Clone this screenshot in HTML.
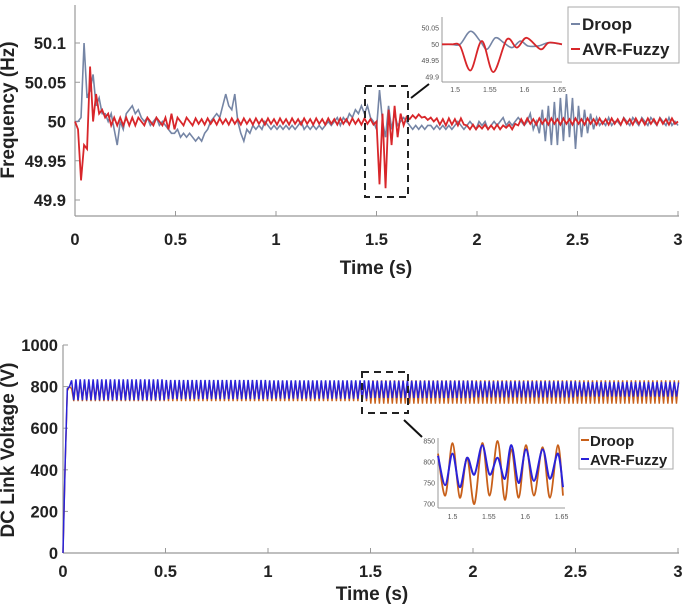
<!DOCTYPE html>
<html><head><meta charset="utf-8">
<style>
html,body{margin:0;padding:0;background:#fff;}
svg{display:block;font-family:"Liberation Sans",Arial,sans-serif;}
.tk{font-size:16.5px;font-weight:bold;fill:#222;}
.ttl{font-size:19px;font-weight:bold;fill:#222;}
.itk{font-size:7px;fill:#555;}
.lg{font-size:17px;font-weight:bold;fill:#222;}
</style></head><body>
<svg id="chart" width="685" height="605" viewBox="0 0 685 605"></svg>
<script>
// ---------- data ----------
const topDt = 0.015;
const topDroop = [
50,50,50.005,50.1,50.03,50.04,50.06,50.02,50.03,50.01,
50.01,50.0,50.01,49.99,49.97,50.0,49.99,50.01,50.015,50.02,
50.01,50.015,50.005,50.0,50.005,49.995,50.0,50.005,49.995,50.0,
49.995,49.99,49.985,49.985,49.99,49.98,49.985,49.98,49.985,49.98,
49.975,49.98,49.975,49.985,49.99,50.0,50.005,50.01,50.005,50.02,
50.035,50.02,50.015,50.035,50.0,49.985,49.975,49.99,49.985,49.995,
49.99,49.995,49.99,50.0,49.995,49.99,49.995,49.99,49.995,49.99,
49.995,49.99,49.995,49.99,49.995,50.0,49.99,49.995,49.99,49.995,
49.99,49.995,49.99,49.995,50.0,49.995,50.0,50.005,49.995,50.005,
50.0,50.01,50.005,50.015,50.01,50.02,50.01,50.02,50.005,50.0,
49.99,50.04,50.0,49.98,50.02,49.99,50.01,49.995,50.0,50.005,
50.0,49.995,49.99,49.995,49.99,49.995,49.99,49.995,49.995,49.99,
49.995,49.99,49.995,49.99,49.995,49.99,49.995,50.0,49.995,49.99,
49.995,50.0,49.995,49.99,50.0,49.995,50.0,49.99,49.995,50.0,
49.995,50.0,50.005,49.995,50.0,49.995,50.0,50.005,50.0,49.995,
50.0,50.01,49.99,50.0,49.985,50.015,49.975,50.02,49.97,50.025,
49.97,50.03,49.975,50.035,49.98,50.03,49.965,50.02,49.98,50.015,
49.985,50.01,49.99,50.005,49.995,50.0,49.995,50.005,49.995,50.0,
50.0,49.995,50.005,50.0,49.995,50.005,50.0,49.995,50.005,50.0,
49.995,50.005,50.0,49.995,50.005,50.0,49.995,50.005,49.995,50.0,
49.995];
const topAvr = [
50,49.99,49.925,49.97,49.965,50.07,50.0,50.035,50.01,50.015,
50.005,50.01,49.995,50.005,49.995,50.005,49.995,50.005,49.995,50.005,
49.995,50.005,50.0,49.995,50.005,50.0,49.995,50.005,50.0,49.995,
50.005,49.99,50.01,49.99,50.005,50.0,49.995,50.005,50.0,49.995,
50.004,49.997,50.003,49.996,50.004,49.997,50.003,49.996,50.004,49.997,
50.003,49.996,50.004,49.997,50.003,49.996,50.004,49.997,50.003,49.996,
50.004,49.997,50.003,49.996,50.004,49.997,50.003,49.996,50.004,49.997,
50.003,49.996,50.004,49.997,50.003,49.996,50.004,49.997,50.003,49.996,
50.004,49.997,50.003,49.996,50.004,49.997,50.003,49.996,50.004,49.997,
50.003,49.996,50.004,49.997,50.003,49.996,50.004,49.997,50.003,49.996,
50.0,49.92,50.01,49.915,50.015,49.97,50.02,49.98,50.01,49.995,
50.006,50.003,50.008,50.004,50.009,50.005,50.006,50.002,50.005,50.0,
50.004,49.996,50.003,49.995,50.004,49.996,50.003,49.995,50.004,49.996,
49.995,49.99,49.996,49.99,49.995,49.991,49.996,49.99,49.995,49.99,
49.996,49.99,49.995,49.992,49.996,49.99,49.997,49.995,50.003,49.996,
50.004,49.997,50.003,49.996,50.004,49.997,50.003,49.996,50.004,49.997,
50.003,49.996,50.004,49.997,50.003,49.996,50.004,49.997,50.003,49.996,
50.004,49.997,50.003,49.996,50.004,49.997,50.003,49.996,50.004,49.997,
50.003,49.996,50.004,49.997,50.003,49.996,50.004,49.997,50.003,49.996,
50.004,49.997,50.003,49.996,50.004,49.997,50.003,49.996,50.004,49.997,
50.0];
const topXTicks = [0,0.5,1,1.5,2,2.5,3];
const topXTickLabels = ["0","0.5","1","1.5","2","2.5","3"];
const topYTicks = [49.9,49.95,50,50.05,50.1];
const topYTickLabels = ["49.9","49.95","50","50.05","50.1"];

const topInsetDroopT = [1.481,1.495,1.507,1.522,1.536,1.546,1.558,1.57,1.582,1.594,1.605,1.62,1.635,1.654];
const topInsetDroopV = [50,50,50.0,50.04,50.01,49.985,50.02,50.005,49.99,50.01,49.995,49.995,50.005,50.0];
const topInsetAvrT = [1.481,1.495,1.507,1.522,1.5385,1.555,1.5745,1.589,1.603,1.623,1.635,1.654];
const topInsetAvrV = [50,50,49.995,49.92,50.01,49.915,50.015,49.99,50.02,49.985,50.005,50.0];
const topInsetXTicks = [1.5,1.55,1.6,1.65];
const topInsetXLabels = ["1.5","1.55","1.6","1.65"];
const topInsetYTicks = [49.9,49.95,50,50.05];
const topInsetYLabels = ["49.9","49.95","50","50.05"];

const botDt = 0.0105;
const botDroopPeaks = [0,420,780,800,790];
const botBlueStart = [0,430,790,800,830];
const botDroopHi = 825, botDroopLo = 730;
const botDroopHi2 = 830, botDroopLo2 = 718;
const botBlueHiArr = [835,832,830,828,825,822,820];
const botBlueLoArr = [735,740,742,745,748,752,755];
const botXTicks = [0,0.5,1,1.5,2,2.5,3];
const botXTickLabels = ["0","0.5","1","1.5","2","2.5","3"];
const botYTicks = [0,200,400,600,800,1000];
const botYTickLabels = ["0","200","400","600","800","1000"];

const botInsetDroopT = [1.48,1.49,1.50,1.51,1.52,1.53,1.541,1.551,1.562,1.572,1.581,1.591,1.601,1.612,1.624,1.634,1.645,1.652];
const botInsetDroopV = [820,720,845,715,810,700,845,720,850,710,830,715,840,720,835,715,840,720];
const botInsetBlueT = [1.48,1.49,1.50,1.51,1.52,1.53,1.541,1.551,1.562,1.572,1.581,1.591,1.601,1.612,1.624,1.634,1.645,1.652];
const botInsetBlueV = [815,745,820,740,810,770,840,770,810,760,840,750,830,755,830,760,820,740];
const botInsetXTicks = [1.5,1.55,1.6,1.65];
const botInsetXLabels = ["1.5","1.55","1.6","1.65"];
const botInsetYTicks = [700,750,800,850];
const botInsetYLabels = ["700","750","800","850"];

// ---------- helpers ----------
const NS = "http://www.w3.org/2000/svg";
const svg = document.getElementById('chart');
function mk(tag, attrs, parent, text){
  const e = document.createElementNS(NS, tag);
  for (const k in attrs) e.setAttribute(k, attrs[k]);
  if (text !== undefined) e.textContent = text;
  (parent||svg).appendChild(e);
  return e;
}
function lin(d0,d1,r0,r1){ return v => r0 + (v-d0)/(d1-d0)*(r1-r0); }
function linePath(xs, ys, sx, sy){
  let d=''; for(let i=0;i<xs.length;i++){ d += (i?'L':'M') + sx(xs[i]).toFixed(2)+','+sy(ys[i]).toFixed(2); } return d;
}
function smoothPath(xs, ys, sx, sy){
  const p = xs.map((x,i)=>[sx(x), sy(ys[i])]);
  let d = 'M'+p[0][0]+','+p[0][1];
  for(let i=0;i<p.length-1;i++){
    const p0=p[i-1]||p[i], p1=p[i], p2=p[i+1], p3=p[i+2]||p2;
    const c1=[p1[0]+(p2[0]-p0[0])/6, p1[1]+(p2[1]-p0[1])/6];
    const c2=[p2[0]-(p3[0]-p1[0])/6, p2[1]-(p3[1]-p1[1])/6];
    d += 'C'+c1[0].toFixed(2)+','+c1[1].toFixed(2)+' '+c2[0].toFixed(2)+','+c2[1].toFixed(2)+' '+p2[0].toFixed(2)+','+p2[1].toFixed(2);
  }
  return d;
}

// ================= TOP CHART =================
const tx = lin(0,3,75,678), ty = lin(49.9,50.1,200,43);
const gTop = mk('g',{});


mk('line',{x1:75,y1:5,x2:75,y2:216,stroke:'#999','stroke-width':1.2},gTop);
mk('line',{x1:75,y1:216,x2:679,y2:216,stroke:'#999','stroke-width':1.2},gTop);
topXTicks.forEach((v,i)=>{
  mk('line',{x1:tx(v),y1:216,x2:tx(v),y2:211,stroke:'#999'},gTop);
  const t = mk('text',{x:tx(v),y:245,'text-anchor':'middle',class:'tk'},gTop,topXTickLabels[i]);
  
  
});
topYTicks.forEach((v,i)=>{
  mk('line',{x1:75,y1:ty(v),x2:80,y2:ty(v),stroke:'#999'},gTop);
  const t = mk('text',{x:66,y:ty(v)+6,'text-anchor':'end',class:'tk'},gTop,topYTickLabels[i]);
  
  
});
const topTimes = topDroop.map((_,i)=>i*topDt);
const pd = mk('path',{d:linePath(topTimes,topDroop,tx,ty),fill:'none',stroke:'#7585a5','stroke-width':1.6},gTop);


const pa = mk('path',{d:linePath(topTimes,topAvr,tx,ty),fill:'none',stroke:'#d8262a','stroke-width':1.8},gTop);


const xt1 = mk('text',{x:376,y:274,'text-anchor':'middle',class:'ttl'},gTop,'Time (s)');


const yt1 = mk('text',{x:0,y:0,'text-anchor':'middle',class:'ttl',transform:'translate(14,110) rotate(-90)'},gTop,'Frequency (Hz)');


const zb1 = mk('rect',{x:365,y:86,width:43,height:111,fill:'none',stroke:'#222','stroke-width':2,'stroke-dasharray':'7,5'},gTop);


mk('line',{x1:411,y1:98,x2:429,y2:84,stroke:'#111','stroke-width':2},gTop);
const ix = lin(1.481,1.654,442,562), iy = lin(49.9,50.05,77,28);
mk('rect',{x:442,y:17,width:120,height:65,fill:'#fff'},gTop);
mk('line',{x1:442,y1:17,x2:442,y2:82,stroke:'#999'},gTop);
mk('line',{x1:442,y1:82,x2:562,y2:82,stroke:'#999'},gTop);
topInsetXTicks.forEach((v,i)=>mk('text',{x:ix(v),y:92,'text-anchor':'middle',class:'itk'},gTop,topInsetXLabels[i]));
topInsetYTicks.forEach((v,i)=>mk('text',{x:439,y:iy(v)+2.5,'text-anchor':'end',class:'itk'},gTop,topInsetYLabels[i]));
const ipd = mk('path',{d:smoothPath(topInsetDroopT,topInsetDroopV,ix,iy),fill:'none',stroke:'#7585a5','stroke-width':1.6},gTop);


const ipa = mk('path',{d:smoothPath(topInsetAvrT,topInsetAvrV,ix,iy),fill:'none',stroke:'#d8262a','stroke-width':1.8},gTop);


const lg1 = mk('g',{},gTop);


mk('rect',{x:568,y:7,width:111,height:56,fill:'#fff',stroke:'#aaa'},lg1);
mk('line',{x1:571,y1:24,x2:580,y2:24,stroke:'#7585a5','stroke-width':2},lg1);
const le1 = mk('text',{x:582,y:30,class:'lg'},lg1,'Droop');


mk('line',{x1:571,y1:49,x2:580,y2:49,stroke:'#d8262a','stroke-width':2},lg1);
const le2 = mk('text',{x:582,y:55,class:'lg'},lg1,'AVR-Fuzzy');



// ================= BOTTOM CHART =================
const bx = lin(0,3,63,678), by = lin(0,1000,553,345);
const gBot = mk('g',{});


mk('line',{x1:63,y1:345,x2:63,y2:553,stroke:'#999','stroke-width':1.2},gBot);
mk('line',{x1:63,y1:553,x2:679,y2:553,stroke:'#999','stroke-width':1.2},gBot);
botXTicks.forEach((v,i)=>{
  mk('line',{x1:bx(v),y1:553,x2:bx(v),y2:548,stroke:'#999'},gBot);
  const t = mk('text',{x:bx(v),y:577,'text-anchor':'middle',class:'tk'},gBot,botXTickLabels[i]);
  
  
});
botYTicks.forEach((v,i)=>{
  mk('line',{x1:63,y1:by(v),x2:68,y2:by(v),stroke:'#999'},gBot);
  const t = mk('text',{x:58,y:by(v)+6,'text-anchor':'end',class:'tk'},gBot,botYTickLabels[i]);
  
  
});
const botN = Math.round(3/botDt);
const botT = [], botDroop = [], botBlue = [];
for(let i=0;i<=botN;i++){
  const t=i*botDt; botT.push(t);
  if(i<botDroopPeaks.length){ botDroop.push(botDroopPeaks[i]); botBlue.push(botBlueStart[i]); continue; }
  const hi = i%2===0;
  botDroop.push(t<1.5 ? (hi?botDroopHi:botDroopLo) : (hi?botDroopHi2:botDroopLo2));
  const seg = Math.min(6, Math.floor(t/0.5));
  botBlue.push(hi?botBlueHiArr[seg]:botBlueLoArr[seg]);
}
const bd = mk('path',{d:linePath(botT,botDroop,bx,by),fill:'none',stroke:'#c8601a','stroke-width':1.4},gBot);


const bb = mk('path',{d:linePath(botT,botBlue,bx,by),fill:'none',stroke:'#2a22d8','stroke-width':1.5},gBot);


const xt2 = mk('text',{x:372,y:600,'text-anchor':'middle',class:'ttl'},gBot,'Time (s)');


const yt2 = mk('text',{x:0,y:0,'text-anchor':'middle',class:'ttl',transform:'translate(14,450) rotate(-90)'},gBot,'DC Link Voltage (V)');


const zb2 = mk('rect',{x:362,y:372,width:46,height:41,fill:'none',stroke:'#222','stroke-width':2,'stroke-dasharray':'7,5'},gBot);


mk('line',{x1:404,y1:420,x2:422,y2:437,stroke:'#111','stroke-width':2},gBot);
const jx = lin(1.48,1.652,438,563), jy = lin(700,850,504,441);
mk('line',{x1:438,y1:438,x2:438,y2:508,stroke:'#999'},gBot);
mk('line',{x1:438,y1:508,x2:565,y2:508,stroke:'#999'},gBot);
botInsetXTicks.forEach((v,i)=>mk('text',{x:jx(v),y:519,'text-anchor':'middle',class:'itk'},gBot,botInsetXLabels[i]));
botInsetYTicks.forEach((v,i)=>mk('text',{x:435,y:jy(v)+2.5,'text-anchor':'end',class:'itk'},gBot,botInsetYLabels[i]));
const jd = mk('path',{d:smoothPath(botInsetDroopT,botInsetDroopV,jx,jy),fill:'none',stroke:'#c8601a','stroke-width':1.8},gBot);


const jb = mk('path',{d:smoothPath(botInsetBlueT,botInsetBlueV,jx,jy),fill:'none',stroke:'#2a22d8','stroke-width':2},gBot);


const lg2 = mk('g',{},gBot);


mk('rect',{x:579,y:428,width:94,height:41,fill:'#fff',stroke:'#aaa'},lg2);
mk('line',{x1:581,y1:440,x2:589,y2:440,stroke:'#c8601a','stroke-width':2},lg2);
const le3 = mk('text',{x:590,y:446,class:'lg',style:'font-size:15px'},lg2,'Droop');


mk('line',{x1:581,y1:459,x2:589,y2:459,stroke:'#2a22d8','stroke-width':2},lg2);
const le4 = mk('text',{x:590,y:465,class:'lg',style:'font-size:15px'},lg2,'AVR-Fuzzy');


</script>
</body></html>
